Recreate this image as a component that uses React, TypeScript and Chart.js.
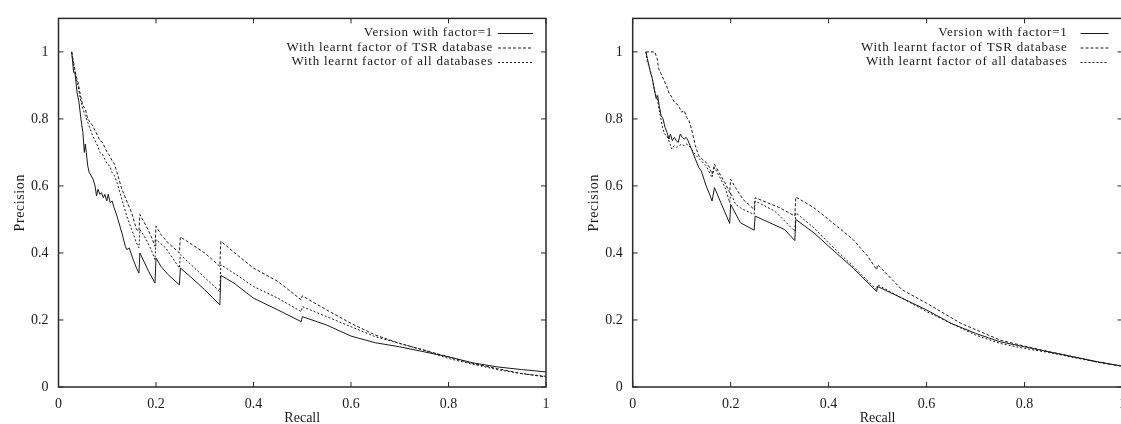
import React, { useEffect, useRef } from "react";
import { Chart, registerables } from "chart.js";

Chart.register(...registerables);

type Pt = [number, number];

// ---- tick values / labels ----
const xTickValues = [0, 0.2, 0.4, 0.6, 0.8, 1];
const xTickLabels = ["0", "0.2", "0.4", "0.6", "0.8", "1"];
const yTickValues = [0, 0.2, 0.4, 0.6, 0.8, 1];
const yTickLabels = ["0", "0.2", "0.4", "0.6", "0.8", "1"];

const seriesNames = [
  "Version with factor=1",
  "With learnt factor of TSR database",
  "With learnt factor of all databases",
];
const xTitle = "Recall";
const yTitle = "Precision";

// ---- left panel ----
const leftFactor1: Pt[] = [
  [0.027, 1.0], [0.031, 0.94], [0.034, 0.935], [0.038, 0.88], [0.042, 0.85], [0.046, 0.8], [0.05, 0.76],
  [0.053, 0.7], [0.055, 0.725], [0.057, 0.7], [0.06, 0.66], [0.063, 0.64], [0.067, 0.63], [0.071, 0.62],
  [0.075, 0.6], [0.078, 0.57], [0.081, 0.59], [0.085, 0.575], [0.088, 0.58], [0.092, 0.565], [0.095, 0.575],
  [0.099, 0.555], [0.102, 0.575], [0.106, 0.55], [0.11, 0.555], [0.114, 0.535], [0.12, 0.51], [0.13, 0.46],
  [0.137, 0.42], [0.14, 0.41], [0.145, 0.415], [0.152, 0.385], [0.16, 0.355], [0.165, 0.34], [0.167, 0.4],
  [0.175, 0.375], [0.185, 0.345], [0.198, 0.31], [0.2, 0.385], [0.21, 0.36], [0.225, 0.335], [0.248, 0.305],
  [0.25, 0.355], [0.27, 0.33], [0.3, 0.29], [0.331, 0.245], [0.333, 0.333], [0.36, 0.31], [0.4, 0.265],
  [0.45, 0.23], [0.498, 0.195], [0.5, 0.21], [0.55, 0.185], [0.6, 0.152], [0.65, 0.132], [0.7, 0.12],
  [0.75, 0.105], [0.8, 0.09], [0.85, 0.072], [0.9, 0.06], [0.95, 0.052], [1.0, 0.045],
];
const leftTSR: Pt[] = [
  [0.027, 1.0], [0.032, 0.96], [0.036, 0.93], [0.04, 0.91], [0.045, 0.87], [0.05, 0.84], [0.055, 0.83],
  [0.06, 0.8], [0.065, 0.79], [0.07, 0.78], [0.075, 0.765], [0.08, 0.75], [0.085, 0.735], [0.09, 0.73],
  [0.095, 0.715], [0.1, 0.7], [0.105, 0.69], [0.11, 0.675], [0.115, 0.665], [0.12, 0.64], [0.13, 0.59],
  [0.14, 0.555], [0.15, 0.52], [0.16, 0.47], [0.165, 0.465], [0.167, 0.515], [0.18, 0.48], [0.19, 0.45],
  [0.198, 0.42], [0.2, 0.48], [0.21, 0.455], [0.225, 0.43], [0.248, 0.4], [0.25, 0.448], [0.3, 0.4],
  [0.331, 0.36], [0.333, 0.435], [0.37, 0.39], [0.4, 0.355], [0.45, 0.315], [0.498, 0.26], [0.5, 0.272],
  [0.55, 0.23], [0.6, 0.19], [0.65, 0.155], [0.7, 0.13], [0.75, 0.11], [0.8, 0.09], [0.85, 0.07],
  [0.9, 0.055], [0.95, 0.04], [1.0, 0.03],
];
const leftAll: Pt[] = [
  [0.027, 1.0], [0.032, 0.95], [0.036, 0.92], [0.04, 0.9], [0.045, 0.86], [0.05, 0.83], [0.055, 0.81],
  [0.06, 0.79], [0.065, 0.77], [0.07, 0.75], [0.075, 0.735], [0.08, 0.72], [0.085, 0.7], [0.09, 0.695],
  [0.095, 0.68], [0.1, 0.665], [0.105, 0.66], [0.11, 0.64], [0.115, 0.63], [0.12, 0.61], [0.13, 0.56],
  [0.14, 0.51], [0.15, 0.47], [0.16, 0.43], [0.165, 0.415], [0.167, 0.47], [0.18, 0.44], [0.19, 0.41],
  [0.198, 0.38], [0.2, 0.44], [0.22, 0.415], [0.248, 0.355], [0.25, 0.395], [0.29, 0.34], [0.331, 0.285],
  [0.333, 0.365], [0.37, 0.33], [0.4, 0.3], [0.45, 0.265], [0.498, 0.225], [0.5, 0.24], [0.55, 0.21],
  [0.6, 0.18], [0.65, 0.15], [0.7, 0.13], [0.75, 0.11], [0.8, 0.085], [0.85, 0.068], [0.9, 0.052],
  [0.95, 0.04], [1.0, 0.032],
];

// ---- right panel ----
const rightFactor1: Pt[] = [
  [0.027, 1.0], [0.03, 0.98], [0.033, 0.96], [0.036, 0.94], [0.04, 0.92], [0.044, 0.89], [0.048, 0.86],
  [0.051, 0.87], [0.054, 0.84], [0.058, 0.81], [0.062, 0.8], [0.066, 0.775], [0.07, 0.76], [0.074, 0.74],
  [0.077, 0.755], [0.081, 0.735], [0.085, 0.745], [0.089, 0.735], [0.093, 0.73], [0.097, 0.755],
  [0.101, 0.745], [0.105, 0.74], [0.109, 0.745], [0.113, 0.735], [0.12, 0.71], [0.128, 0.68], [0.135, 0.655],
  [0.14, 0.645], [0.15, 0.6], [0.157, 0.575], [0.162, 0.555], [0.167, 0.595], [0.18, 0.55], [0.198, 0.488],
  [0.2, 0.545], [0.22, 0.49], [0.248, 0.468], [0.25, 0.51], [0.28, 0.49], [0.31, 0.47], [0.331, 0.437],
  [0.333, 0.5], [0.37, 0.46], [0.4, 0.42], [0.45, 0.355], [0.498, 0.285], [0.5, 0.3], [0.55, 0.265],
  [0.6, 0.23], [0.65, 0.19], [0.7, 0.16], [0.75, 0.135], [0.8, 0.12], [0.85, 0.105], [0.9, 0.09],
  [0.95, 0.075], [1.0, 0.062],
];
const rightTSR: Pt[] = [
  [0.027, 1.0], [0.045, 1.0], [0.05, 0.98], [0.053, 0.95], [0.058, 0.935], [0.064, 0.915], [0.07, 0.895],
  [0.075, 0.875], [0.08, 0.865], [0.085, 0.85], [0.09, 0.845], [0.095, 0.835], [0.1, 0.82], [0.105, 0.825],
  [0.11, 0.805], [0.115, 0.795], [0.12, 0.77], [0.128, 0.72], [0.135, 0.69], [0.142, 0.68], [0.15, 0.67],
  [0.157, 0.655], [0.162, 0.635], [0.167, 0.665], [0.18, 0.63], [0.19, 0.605], [0.198, 0.58], [0.2, 0.62],
  [0.21, 0.595], [0.225, 0.56], [0.248, 0.53], [0.25, 0.565], [0.3, 0.535], [0.331, 0.51], [0.333, 0.567],
  [0.37, 0.535], [0.4, 0.5], [0.45, 0.44], [0.48, 0.39], [0.498, 0.35], [0.5, 0.365], [0.55, 0.29],
  [0.6, 0.25], [0.67, 0.19], [0.75, 0.14], [0.8, 0.122], [0.85, 0.105], [0.9, 0.09], [0.95, 0.074],
  [1.0, 0.062],
];
const rightAll: Pt[] = [
  [0.027, 1.0], [0.03, 0.97], [0.035, 0.95], [0.04, 0.92], [0.045, 0.88], [0.05, 0.86], [0.055, 0.82],
  [0.06, 0.78], [0.065, 0.755], [0.07, 0.75], [0.075, 0.73], [0.08, 0.71], [0.085, 0.72], [0.09, 0.715],
  [0.095, 0.72], [0.1, 0.725], [0.105, 0.72], [0.11, 0.725], [0.115, 0.72], [0.12, 0.71], [0.13, 0.69],
  [0.14, 0.675], [0.15, 0.66], [0.162, 0.625], [0.167, 0.655], [0.18, 0.62], [0.19, 0.59], [0.198, 0.55],
  [0.2, 0.58], [0.21, 0.545], [0.225, 0.53], [0.248, 0.515], [0.25, 0.555], [0.29, 0.525], [0.331, 0.465],
  [0.333, 0.52], [0.37, 0.475], [0.4, 0.43], [0.45, 0.36], [0.498, 0.29], [0.5, 0.305], [0.55, 0.265],
  [0.6, 0.225], [0.65, 0.19], [0.7, 0.155], [0.75, 0.13], [0.8, 0.115], [0.85, 0.103], [0.9, 0.088],
  [0.95, 0.074], [1.0, 0.062],
];

const DASHES: number[][] = [[], [3, 2], [2, 2]];
const FONT = '"Liberation Serif", "Times New Roman", serif';
const INK = "#1a1a1a";

interface PanelGeom {
  canvasLeft: number;
  canvasWidth: number;
  areaLeft: number; // px within canvas
  areaRight: number;
  legendTextRight: number; // offset from area right
  legendLineStart: number;
  legendLineEnd: number;
}

function makePlugin(g: PanelGeom) {
  return {
    id: "gnuFrame",
    afterDraw(chart: any) {
      const { ctx, chartArea: a, scales } = chart;
      const xs = scales.x;
      const ys = scales.y;
      ctx.save();
      // frame
      ctx.strokeStyle = "#2a2a2a";
      ctx.lineWidth = 1.5;
      ctx.setLineDash([]);
      ctx.strokeRect(a.left, a.top, a.right - a.left, a.bottom - a.top);
      // inward ticks
      ctx.lineWidth = 1;
      ctx.beginPath();
      xTickValues.forEach((v) => {
        const px = xs.getPixelForValue(v);
        ctx.moveTo(px, a.bottom);
        ctx.lineTo(px, a.bottom - 5);
        ctx.moveTo(px, a.top);
        ctx.lineTo(px, a.top + 5);
      });
      yTickValues.forEach((v) => {
        const py = ys.getPixelForValue(v);
        ctx.moveTo(a.left, py);
        ctx.lineTo(a.left + 5, py);
        ctx.moveTo(a.right, py);
        ctx.lineTo(a.right - 5, py);
      });
      ctx.stroke();

      // axis titles
      ctx.fillStyle = INK;
      ctx.font = `14px ${FONT}`;
      ctx.textAlign = "center";
      ctx.textBaseline = "middle";
      ctx.fillText(xTitle, (a.left + a.right) / 2, 418);
      ctx.save();
      ctx.translate(a.left - 38, (a.top + a.bottom) / 2);
      ctx.rotate(-Math.PI / 2);
      (ctx as any).letterSpacing = "0.6px";
      ctx.fillText(yTitle, 0, 0);
      ctx.restore();

      // legend
      ctx.font = `13px ${FONT}`;
      (ctx as any).letterSpacing = "0.75px";
      ctx.textAlign = "right";
      ctx.textBaseline = "middle";
      const rows = [33, 47.5, 62];
      seriesNames.forEach((name, i) => {
        ctx.fillStyle = INK;
        ctx.fillText(name, a.right - g.legendTextRight, rows[i]);
        ctx.beginPath();
        ctx.setLineDash(DASHES[i]);
        ctx.strokeStyle = INK;
        ctx.lineWidth = 1;
        ctx.moveTo(a.right - g.legendLineStart, rows[i] + 0.5);
        ctx.lineTo(a.right - g.legendLineEnd, rows[i] + 0.5);
        ctx.stroke();
      });
      ctx.restore();
    },
  };
}

function Panel({ geom, series }: { geom: PanelGeom; series: Pt[][] }) {
  const ref = useRef<HTMLCanvasElement | null>(null);
  useEffect(() => {
    if (!ref.current) return;
    const chart = new Chart(ref.current, {
      type: "scatter",
      data: {
        datasets: series.map((s, i) => ({
          label: seriesNames[i],
          data: s.map(([x, y]) => ({ x, y })),
          showLine: true,
          borderColor: INK,
          backgroundColor: INK,
          borderWidth: 1,
          borderDash: DASHES[i],
          pointRadius: 0,
          tension: 0,
        })),
      },
      options: {
        responsive: false,
        animation: false,
        devicePixelRatio: 1,
        layout: {
          padding: { left: 0, right: geom.canvasWidth - geom.areaRight, top: 12, bottom: 0 },
        },
        plugins: { legend: { display: false }, tooltip: { enabled: false } },
        scales: {
          x: {
            type: "linear",
            min: 0,
            max: 1,
            grid: { display: false, drawTicks: false },
            border: { display: false },
            afterBuildTicks: (sc: any) => {
              sc.ticks = xTickValues.map((v) => ({ value: v }));
            },
            afterFit: (sc: any) => {
              sc.height = 37;
            },
            ticks: {
              padding: 9,
              color: INK,
              maxRotation: 0,
              autoSkip: false,
              font: { family: FONT, size: 14 },
              callback: (v: any) => {
                const i = xTickValues.findIndex((t) => Math.abs(t - Number(v)) < 1e-9);
                return i >= 0 ? xTickLabels[i] : "";
              },
            },
          },
          y: {
            type: "linear",
            min: 0,
            max: 1.1,
            grid: { display: false, drawTicks: false },
            border: { display: false },
            afterBuildTicks: (sc: any) => {
              sc.ticks = yTickValues.map((v) => ({ value: v }));
            },
            afterFit: (sc: any) => {
              sc.width = geom.areaLeft;
            },
            ticks: {
              padding: 10,
              color: INK,
              autoSkip: false,
              font: { family: FONT, size: 14 },
              callback: (v: any) => {
                const i = yTickValues.findIndex((t) => Math.abs(t - Number(v)) < 1e-9);
                return i >= 0 ? yTickLabels[i] : "";
              },
            },
          },
        },
      },
      plugins: [makePlugin(geom)],
    } as any);
    return () => chart.destroy();
  }, []);
  return (
    <canvas
      ref={ref}
      width={geom.canvasWidth}
      height={424}
      style={{ position: "absolute", left: geom.canvasLeft, top: 0, width: geom.canvasWidth, height: 424 }}
    />
  );
}

const leftGeom: PanelGeom = {
  canvasLeft: 0,
  canvasWidth: 560,
  areaLeft: 58.5,
  areaRight: 546,
  legendTextRight: 53,
  legendLineStart: 48,
  legendLineEnd: 13,
};
const rightGeom: PanelGeom = {
  canvasLeft: 560,
  canvasWidth: 590,
  areaLeft: 72.7,
  areaRight: 562.5,
  legendTextRight: 55,
  legendLineStart: 42,
  legendLineEnd: 14,
};

export default function App() {
  return (
    <div
      style={{
        position: "absolute",
        left: 0,
        top: 0,
        width: 1121,
        height: 424,
        overflow: "hidden",
        background: "#fff",
      }}
    >
      <Panel geom={leftGeom} series={[leftFactor1, leftTSR, leftAll]} />
      <Panel geom={rightGeom} series={[rightFactor1, rightTSR, rightAll]} />
    </div>
  );
}
